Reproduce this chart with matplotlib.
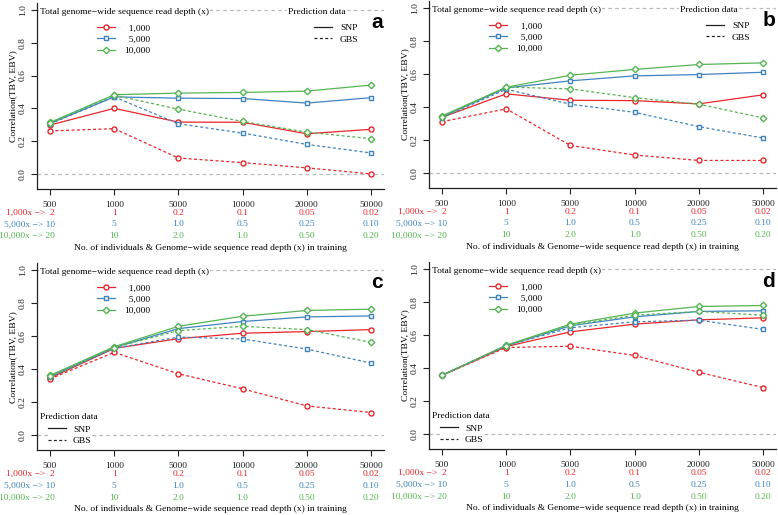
import matplotlib
matplotlib.use("Agg")
import matplotlib.pyplot as plt
from matplotlib.lines import Line2D
from matplotlib.transforms import blended_transform_factory

plt.rcParams['font.family'] = ['Liberation Serif', 'DejaVu Serif']

# ---------------- data ----------------
x_labels = ['500', '1000', '5000', '10000', '20000', '50000']
row_red = ['1,000x \u2212>  2', '1', '0.2', '0.1', '0.05', '0.02']
row_blue = ['5,000x \u2212> 10', '5', '1.0', '0.5', '0.25', '0.10']
row_green = ['10,000x \u2212> 20', '10', '2.0', '1.0', '0.50', '0.20']
depth_labels = ['  1,000', '  5,000', '10,000']

# panel a
a_snp_1000 = [0.298, 0.400, 0.316, 0.315, 0.245, 0.272]
a_snp_5000 = [0.308, 0.470, 0.462, 0.460, 0.432, 0.465]
a_snp_10000 = [0.314, 0.483, 0.493, 0.497, 0.505, 0.542]
a_gbs_1000 = [0.262, 0.276, 0.097, 0.069, 0.037, 0.000]
a_gbs_5000 = [0.305, 0.470, 0.306, 0.249, 0.180, 0.128]
a_gbs_10000 = [0.312, 0.480, 0.395, 0.320, 0.255, 0.215]
# panel b
b_snp_1000 = [0.337, 0.479, 0.440, 0.438, 0.418, 0.473]
b_snp_5000 = [0.340, 0.515, 0.558, 0.588, 0.596, 0.610]
b_snp_10000 = [0.345, 0.519, 0.592, 0.627, 0.657, 0.667]
b_gbs_1000 = [0.310, 0.388, 0.166, 0.108, 0.075, 0.075]
b_gbs_5000 = [0.335, 0.507, 0.416, 0.367, 0.280, 0.211]
b_gbs_10000 = [0.340, 0.520, 0.509, 0.456, 0.416, 0.333]
# panel c
c_snp_1000 = [0.345, 0.525, 0.584, 0.617, 0.627, 0.639]
c_snp_5000 = [0.355, 0.530, 0.645, 0.688, 0.716, 0.722]
c_snp_10000 = [0.361, 0.535, 0.659, 0.720, 0.755, 0.763]
c_gbs_1000 = [0.340, 0.501, 0.371, 0.280, 0.176, 0.136]
c_gbs_5000 = [0.350, 0.525, 0.594, 0.582, 0.521, 0.436]
c_gbs_10000 = [0.355, 0.530, 0.633, 0.659, 0.639, 0.562]
# panel d
d_snp_1000 = [0.356, 0.530, 0.619, 0.666, 0.692, 0.704]
d_snp_5000 = [0.356, 0.535, 0.656, 0.710, 0.743, 0.747]
d_snp_10000 = [0.356, 0.538, 0.666, 0.733, 0.773, 0.779]
d_gbs_1000 = [0.356, 0.524, 0.532, 0.476, 0.374, 0.281]
d_gbs_5000 = [0.356, 0.535, 0.644, 0.680, 0.690, 0.634]
d_gbs_10000 = [0.356, 0.535, 0.660, 0.720, 0.743, 0.720]

panels = [
    ('a', [a_snp_1000, a_snp_5000, a_snp_10000], [a_gbs_1000, a_gbs_5000, a_gbs_10000], 'top'),
    ('b', [b_snp_1000, b_snp_5000, b_snp_10000], [b_gbs_1000, b_gbs_5000, b_gbs_10000], 'top'),
    ('c', [c_snp_1000, c_snp_5000, c_snp_10000], [c_gbs_1000, c_gbs_5000, c_gbs_10000], 'bottom'),
    ('d', [d_snp_1000, d_snp_5000, d_snp_10000], [d_gbs_1000, d_gbs_5000, d_gbs_10000], 'bottom'),
]
positions = [
    [0.0478, 0.633, 0.4455, 0.361],
    [0.5517, 0.635, 0.4455, 0.363],
    [0.0478, 0.126, 0.4455, 0.363],
    [0.5517, 0.128, 0.4455, 0.363],
]

colors = ['#E8262B', '#3F84C0', '#55B552']
markers = ['o', 's', 'D']
msizes = [3.6, 3.3, 3.3]
FS = 6.8
LW = 0.9
DASH = (0, (2.4, 1.9))

fig = plt.figure(figsize=(7.78, 5.15), dpi=100)
xs = list(range(1, len(x_labels) + 1))

for (letter, snp, gbs, pred_pos), pos in zip(panels, positions):
    ax = fig.add_axes(pos)
    ax.set_xlim(0.8, 6.2)
    ax.set_ylim(-0.092, 1.042)
    for s in ['top', 'right']:
        ax.spines[s].set_visible(False)
    for s in ['left', 'bottom']:
        ax.spines[s].set_linewidth(0.9)
        ax.spines[s].set_color('#222222')
    ax.axhline(0.0, color='#BBBBBB', lw=0.9, ls=(0, (3, 2.5)), zorder=1)
    ax.axhline(1.0, color='#BBBBBB', lw=0.9, ls=(0, (3, 2.5)), zorder=1)

    for vals, c, m, ms in zip(snp, colors, markers, msizes):
        ax.plot(xs, vals, color=c, lw=LW, marker=m, ms=ms, mfc='white',
                mec=c, mew=1.0, zorder=3)
    for vals, c, m, ms in zip(gbs, colors, markers, msizes):
        ax.plot(xs, vals, color=c, lw=LW, ls=DASH, marker=m, ms=ms, mfc='white',
                mec=c, mew=1.0, zorder=3)

    ax.set_xticks(xs)
    ax.set_xticklabels(x_labels, fontsize=FS)
    ax.set_yticks([0.0, 0.2, 0.4, 0.6, 0.8, 1.0])
    ax.set_yticklabels(['0.0', '0.2', '0.4', '0.6', '0.8', '1.0'], fontsize=FS,
                       rotation=90, va='center')
    ax.tick_params(axis='x', length=4, width=0.8, pad=4.5, colors='#222222')
    ax.tick_params(axis='y', length=4, width=0.8, pad=3.5, colors='#222222')

    ax.set_ylabel('Correlation(TBV, EBV)', fontsize=FS, va='center')
    ax.yaxis.set_label_coords(-0.069, 0.5)
    ax.set_xlabel('No. of individuals & Genome\u2212wide sequence read depth (x) in training',
                  fontsize=FS, va='center')
    ax.xaxis.set_label_coords(0.5, -0.316)

    tr = blended_transform_factory(ax.transData, ax.transAxes)
    for row, c, yy in zip([row_red, row_blue, row_green], colors, [-0.129, -0.190, -0.254]):
        for i, lab in enumerate(row):
            if i == 0:
                ax.text(xs[0] + 0.08, yy, lab, color=c, fontsize=FS, ha='right',
                        va='center', transform=tr, clip_on=False)
            else:
                ax.text(xs[i], yy, lab, color=c, fontsize=FS, ha='center',
                        va='center', transform=tr, clip_on=False)

    # depth legend
    ax.text(0.008, 0.952, 'Total genome\u2212wide sequence read depth (x)', fontsize=FS,
            ha='left', va='center', transform=ax.transAxes, zorder=5,
            bbox=dict(fc='white', ec='none', pad=1.0))
    h1 = [Line2D([], [], color=c, lw=LW, marker=m, ms=ms, mfc='white', mec=c, mew=1.0)
          for c, m, ms in zip(colors, markers, msizes)]
    leg1 = ax.legend(h1, depth_labels, loc='upper left', bbox_to_anchor=(0.1725, 0.889),
                     fontsize=FS, frameon=True, borderpad=0.0, borderaxespad=0.0,
                     handlelength=1.9, handletextpad=0.95, labelspacing=0.28,
                     fancybox=False)
    leg1.get_frame().set_facecolor('white')
    leg1.get_frame().set_edgecolor('none')
    leg1.get_frame().set_alpha(1.0)
    ax.add_artist(leg1)

    # prediction legend
    h2 = [Line2D([], [], color='#222222', lw=LW),
          Line2D([], [], color='#222222', lw=LW, ls=DASH)]
    if pred_pos == 'top':
        ax.text(0.7236, 0.952, 'Prediction data', fontsize=FS, ha='left', va='center',
                transform=ax.transAxes, zorder=5, bbox=dict(fc='white', ec='none', pad=1.0))
        anchor = (0.7987, 0.889)
        tpad = 0.85
    else:
        ax.text(0.008, 0.178, 'Prediction data', fontsize=FS, ha='left', va='center',
                transform=ax.transAxes, zorder=5, bbox=dict(fc='white', ec='none', pad=1.0))
        anchor = (0.031, 0.134)
        tpad = 0.75
    leg2 = ax.legend(h2, ['SNP', 'GBS'], loc='upper left', bbox_to_anchor=anchor,
                     fontsize=FS, frameon=True, borderpad=0.0, borderaxespad=0.0,
                     handlelength=1.9, handletextpad=tpad, labelspacing=0.28,
                     fancybox=False)
    leg2.get_frame().set_facecolor('white')
    leg2.get_frame().set_edgecolor('none')
    leg2.get_frame().set_alpha(1.0)

    ax.text(0.998, 0.925, letter, fontsize=15, fontweight='bold',
            family=['Liberation Sans', 'DejaVu Sans'], ha='right', va='center',
            transform=blended_transform_factory(ax.transAxes, ax.transData))

fig.savefig('out.png', dpi=100)
